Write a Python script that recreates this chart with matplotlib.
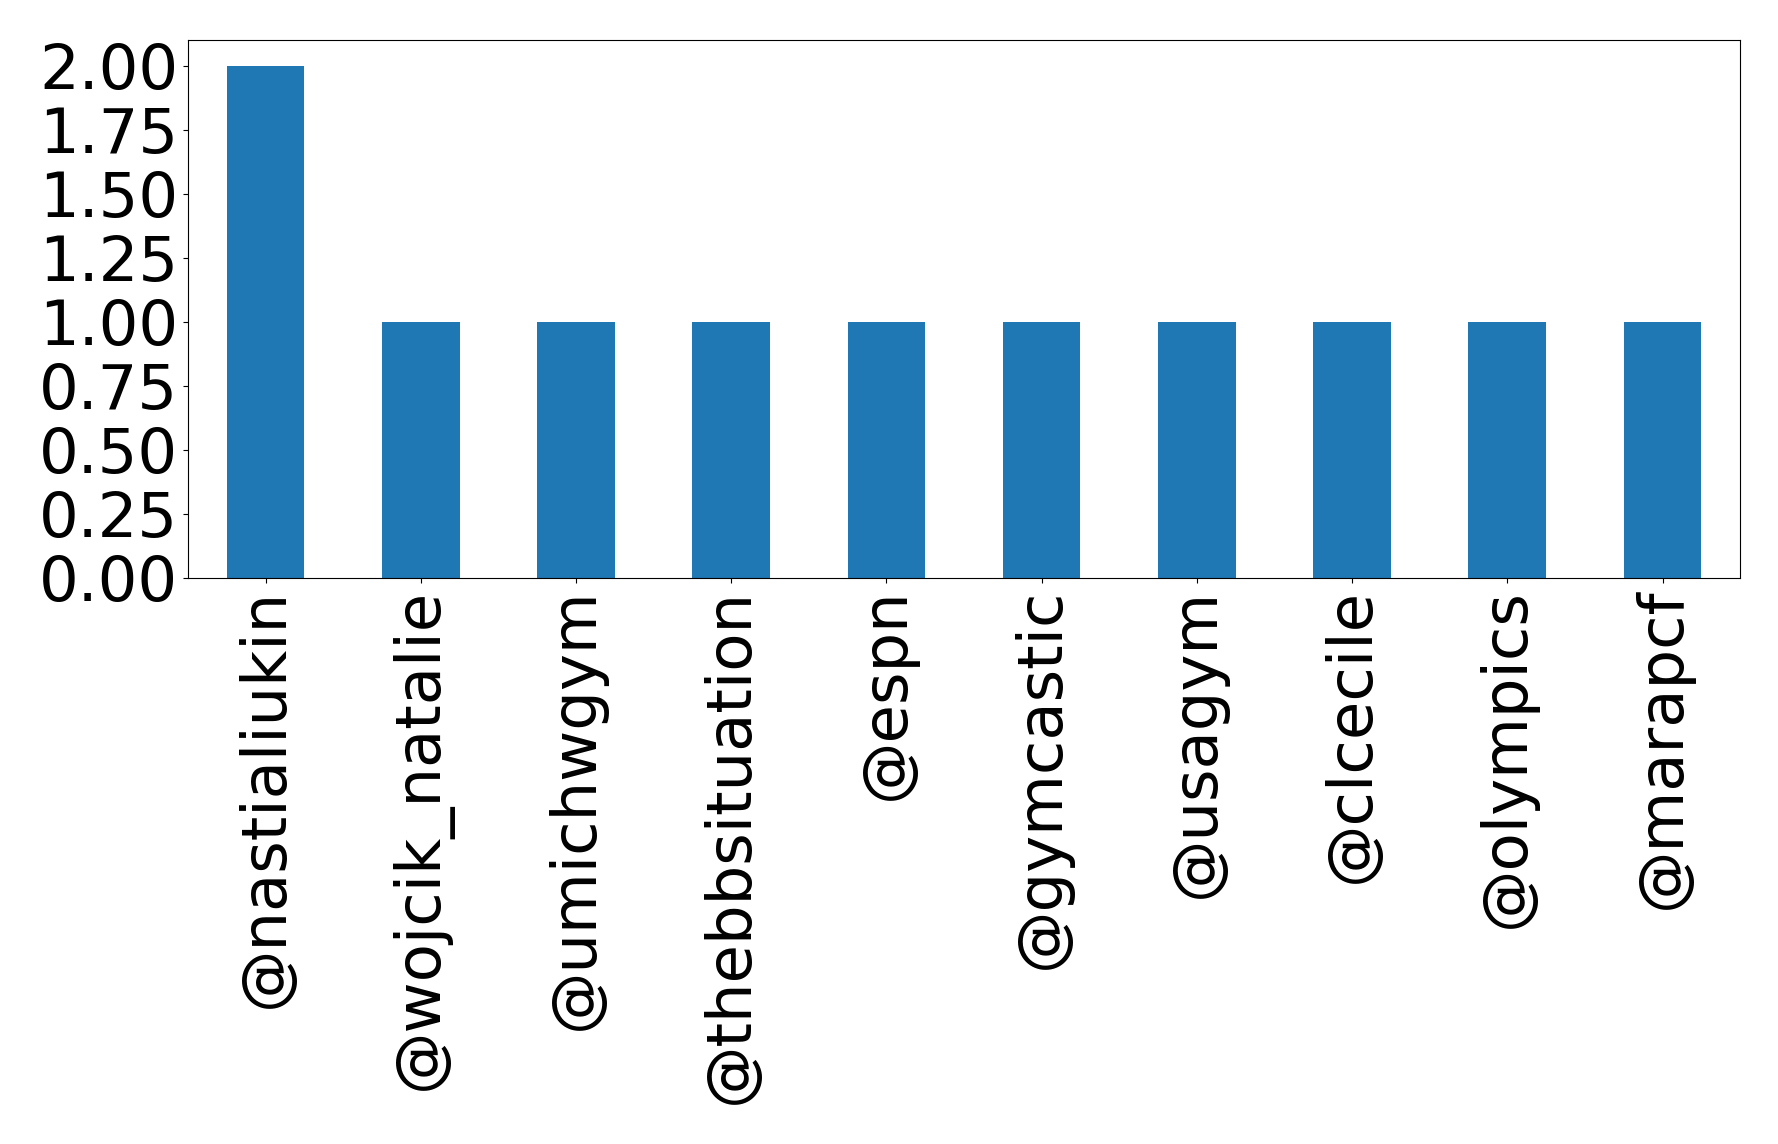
import matplotlib
matplotlib.use("Agg")
import matplotlib.pyplot as plt

users = ["@nastialiukin", "@wojcik_natalie", "@umichwgym", "@thebbsituation", "@espn",
         "@gymcastic", "@usagym", "@clcecile", "@olympics", "@marapcf"]
counts = [2, 1, 1, 1, 1, 1, 1, 1, 1, 1]

fig = plt.figure(figsize=(17.78, 11.44), dpi=100)
ax = fig.add_axes([0.1057, 0.4948, 0.8730, 0.4702])
x = list(range(len(users)))
ax.bar(x, counts, width=0.5, color="#1f77b4")
ax.set_xlim(-0.5, len(users) - 0.5)
ax.set_ylim(0, 2.1)
ax.set_yticks([0, 0.25, 0.5, 0.75, 1.0, 1.25, 1.5, 1.75, 2.0])
ax.set_yticklabels(["0.00", "0.25", "0.50", "0.75", "1.00", "1.25", "1.50", "1.75", "2.00"])
ax.set_xticks(x)
ax.set_xticklabels(users, rotation=90)
ax.tick_params(labelsize=45)
fig.savefig("out.png", dpi=100)
